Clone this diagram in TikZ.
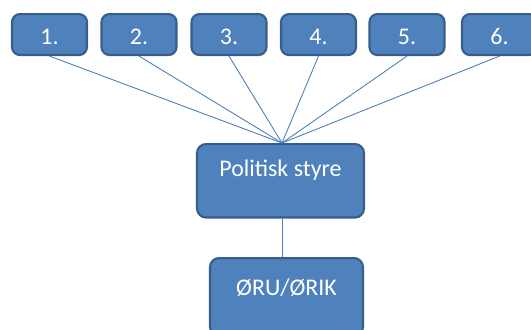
\documentclass[tikz,border=0pt]{standalone}
\usepackage{fontspec}
\setmainfont{Carlito}
\usepackage{xcolor}
\definecolor{orgFill}{HTML}{4F81BD}
\definecolor{orgBorder}{HTML}{385D8A}
\definecolor{orgLine}{HTML}{4A7EBB}
\usepackage{tikz}
\usetikzlibrary{positioning,calc}
\tikzset{
    member/.style={
        draw=orgBorder,
        fill=orgFill,
        rectangle,
        rounded corners=1.6mm,
        line width=1.2pt,
        minimum width=1.5cm,
        inner ysep=0pt,
        text height=0.6cm,
        text depth=0.22cm,
        anchor=north,
        text=white,
        font=\fontsize{13.6}{15}\selectfont
    },
    board/.style={
        draw=orgBorder,
        fill=orgFill,
        rectangle,
        rounded corners=1.8mm,
        line width=1.2pt,
        inner ysep=0pt,
        anchor=north,
        text=white,
        font=\fontsize{13.6}{15}\selectfont
    },
    link/.style={
        draw=orgLine,
        line width=0.5pt
    }
}

\begin{document}
\begin{tikzpicture}[x=0.02cm, y=-0.02cm]
    \clip (0,0) rectangle (531,329);

    % Lower boxes
    \node[board, minimum width=3.34cm, text height=0.64cm, text depth=0.83cm] (styre) at (280.5,143) {Politisk styre};
    \node[board, minimum width=3.06cm, text height=0.75cm, text depth=0.81cm] (oru) at (286.5,257) {ØRU/ØRIK};

    % Six members on top
    \node[member] (m1) at (49.5,13) {1.};
    \node[member] (m2) at (139,13) {2.};
    \node[member] (m3) at (229,13) {3.};
    \node[member] (m4) at (318.5,13) {4.};
    \node[member] (m5) at (407,13) {5.};
    \node[member] (m6) at (499.5,13) {6.};

    % Connections
    \coordinate (top) at ($(styre.north)+(1.5,0)$);
    \draw[link] (m1.south) -- (top);
    \draw[link] (m2.south) -- (top);
    \draw[link] (m3.south) -- (top);
    \draw[link] (m4.south) -- (top);
    \draw[link] (m5.south) -- (top);
    \draw[link] (m6.south) -- (top);
    \draw[link] (top |- styre.south) -- (top |- oru.north);
\end{tikzpicture}
\end{document}
